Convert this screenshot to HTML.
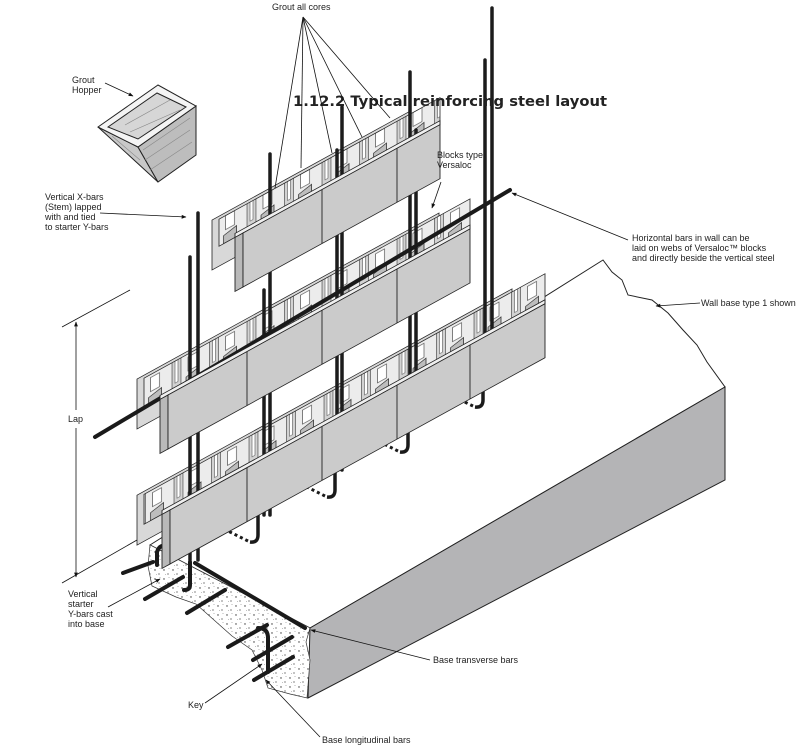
<!DOCTYPE html>
<html><head><meta charset="utf-8"><style>
html,body{margin:0;padding:0;background:#fff;}
svg{display:block;}
text{font-family:"Liberation Sans",sans-serif;font-size:9px;fill:#222;}
</style></head><body>
<svg width="805" height="746" viewBox="0 0 805 746" xmlns="http://www.w3.org/2000/svg">
<defs>
<pattern id="webs" x="0" y="-33" width="37.5" height="33" patternUnits="userSpaceOnUse">
<rect width="37.5" height="33" fill="#ececec"/>
<rect x="4" y="0" width="9" height="33" fill="#d2d2d2" stroke="#333" stroke-width="0.6"/>
<rect x="7" y="3" width="3" height="22" fill="#fff" stroke="#444" stroke-width="0.5"/>
<rect x="20" y="6" width="9" height="14" fill="#fff" stroke="#333" stroke-width="0.6"/>
<path d="M18 33 L18 25 L31 22 L31 33 Z" fill="#bdbdbd" stroke="#222" stroke-width="0.7"/>
</pattern>
<pattern id="speck" width="9" height="9" patternUnits="userSpaceOnUse">
<rect width="9" height="9" fill="#fff"/>
<circle cx="2" cy="3" r="0.7" fill="#333"/><circle cx="6" cy="7" r="0.6" fill="#333"/><circle cx="7" cy="1.5" r="0.4" fill="#555"/><circle cx="3.5" cy="7.5" r="0.35" fill="#555"/>
</pattern>
<marker id="ah" viewBox="0 0 10 10" refX="9" refY="5" markerWidth="8" markerHeight="6" orient="auto-start-reverse"><path d="M0 1 L10 5 L0 9 Z" fill="#111"/></marker>
</defs>

<!-- base slab -->
<polygon points="150,545 603,260 612,272 622,280 628,295 652,300 668,313 683,330 697,345 707,362 725,387 310,628" fill="#fff" stroke="#222" stroke-width="1"/>
<polygon points="310,628 725,387 725,480 308,698" fill="#b4b4b6" stroke="#222" stroke-width="1"/>
<polygon points="150,545 310,628 306,642 310,660 307,698 290,694 268,688 262,670 252,650 232,636 214,620 196,604 176,597 152,586 148,566" fill="url(#speck)" stroke="#333" stroke-width="0.7"/>

<!-- base rebar -->
<g stroke="#1a1a1a" stroke-width="4" stroke-linecap="round" fill="none">
<line x1="195" y1="563" x2="305" y2="628"/>
<line x1="123" y1="573" x2="153" y2="562"/>
<line x1="145" y1="599" x2="183" y2="577"/>
<line x1="187" y1="613" x2="225" y2="590"/>
<line x1="228" y1="647" x2="267" y2="625"/>
<line x1="253" y1="660" x2="292" y2="637"/>
<line x1="254" y1="680" x2="293" y2="657"/>
<path d="M258 628 Q268 628 268 638 L268 672"/>
<path d="M157 565 L157 552 Q160 543 168 547"/>
<path d="M190 562 L190 585 Q190 590 184 590"/>
</g>
<!-- hooks with dotted -->
<g fill="none" stroke="#1a1a1a">
<path d="M258 513 L258 535 Q258 543 250 542" stroke-width="3.5"/>
<path d="M335 470 L335 490 Q335 498 327 497" stroke-width="3.5"/>
<path d="M408 420 L408 445 Q408 453 400 452" stroke-width="3.5"/>
<path d="M483 375 L483 400 Q483 408 475 407" stroke-width="3.5"/>
<g stroke-width="3" stroke-dasharray="3,3">
<line x1="248" y1="541" x2="228" y2="531"/><line x1="325" y1="496" x2="305" y2="486"/><line x1="398" y1="451" x2="378" y2="441"/><line x1="473" y1="406" x2="452" y2="396"/>
</g>
</g>

<!-- back shells + interiors -->
<g stroke="#222" stroke-width="0.8">
<g transform="matrix(1,-0.55,0,1,243,233)">
<rect x="-31" y="-30" width="197" height="50" fill="#d8d8d8"/>
<rect x="-24" y="-27" width="221" height="27" fill="url(#webs)"/>
</g>
<g transform="matrix(1,-0.55,0,1,168,395)">
<rect x="-31" y="-33" width="302" height="50" fill="#d8d8d8"/>
<rect x="-24" y="-30" width="326" height="30" fill="url(#webs)"/>
</g>
<g transform="matrix(1,-0.55,0,1,170,510)">
<rect x="-33" y="-33" width="375" height="50" fill="#d8d8d8"/>
<rect x="-26" y="-30" width="401" height="30" fill="url(#webs)"/>
</g>
</g>

<!-- vertical bars -->
<g stroke="#1c1c1c" stroke-width="3.5" stroke-linecap="round">
<line x1="190" y1="257" x2="190" y2="560"/>
<line x1="198" y1="213" x2="198" y2="560"/>
<line x1="264" y1="290" x2="264" y2="515"/>
<line x1="270" y1="154" x2="270" y2="515"/>
<line x1="337" y1="150" x2="337" y2="470"/>
<line x1="342" y1="107" x2="342" y2="470"/>
<line x1="410" y1="72" x2="410" y2="425"/>
<line x1="416" y1="130" x2="416" y2="425"/>
<line x1="485" y1="60" x2="485" y2="380"/>
<line x1="492" y1="8" x2="492" y2="380"/>
</g>
<!-- horizontal bar -->
<line x1="95" y1="437" x2="510" y2="190" stroke="#1a1a1a" stroke-width="4" stroke-linecap="round"/>

<!-- front faces -->
<g stroke="#222" stroke-width="0.9">
<g transform="matrix(1,-0.55,0,1,243,233)">
<rect x="-8" y="-4" width="205" height="4" fill="#efefef"/>
<rect x="-8" y="0" width="8" height="54" fill="#b9b9b9"/>
<rect x="0" y="0" width="197" height="54" fill="#cbcbcb"/>
<line x1="79" y1="0" x2="79" y2="54"/><line x1="154" y1="0" x2="154" y2="54"/>
</g>
<g transform="matrix(1,-0.55,0,1,168,395)">
<rect x="-8" y="-4" width="310" height="4" fill="#efefef"/>
<rect x="-8" y="0" width="8" height="54" fill="#b9b9b9"/>
<rect x="0" y="0" width="302" height="54" fill="#cbcbcb"/>
<line x1="79" y1="0" x2="79" y2="54"/><line x1="154" y1="0" x2="154" y2="54"/><line x1="229" y1="0" x2="229" y2="54"/>
</g>
<g transform="matrix(1,-0.55,0,1,170,510)">
<rect x="-8" y="-4" width="383" height="4" fill="#efefef"/>
<rect x="-8" y="0" width="8" height="54" fill="#b9b9b9"/>
<rect x="0" y="0" width="375" height="54" fill="#cbcbcb"/>
<line x1="77" y1="0" x2="77" y2="54"/><line x1="152" y1="0" x2="152" y2="54"/><line x1="227" y1="0" x2="227" y2="54"/><line x1="300" y1="0" x2="300" y2="54"/>
</g>
</g>

<!-- hopper -->
<g stroke="#222" stroke-width="1">
<polygon points="98,127 138,147 158,182" fill="#c8c8c8"/>
<polygon points="138,147 196,106 196,155 158,182" fill="#bdbdbd"/>
<polygon points="98,127 158,85 196,106 138,147" fill="#f4f4f4"/>
<polygon points="108,127 157,93 186,107 138,139" fill="#d6d6d6"/>
<g stroke="#888" stroke-width="0.6"><line x1="145" y1="160" x2="190" y2="130"/><line x1="150" y1="170" x2="192" y2="142"/><line x1="143" y1="150" x2="190" y2="118"/><line x1="112" y1="136" x2="140" y2="160"/><line x1="125" y1="125" x2="170" y2="100"/><line x1="130" y1="132" x2="180" y2="110"/></g>
</g>

<!-- title -->
<text x="293" y="106" style="font-family:'DejaVu Sans',sans-serif;font-size:14px;font-weight:bold;fill:#222" textLength="314" lengthAdjust="spacingAndGlyphs">1.12.2 Typical reinforcing steel layout</text>

<!-- leaders -->
<g stroke="#111" stroke-width="0.8" fill="none">
<line x1="303" y1="17" x2="275" y2="188"/><line x1="303" y1="17" x2="301" y2="168"/><line x1="303" y1="17" x2="332" y2="153"/><line x1="303" y1="17" x2="362" y2="137"/><line x1="303" y1="17" x2="390" y2="118"/>
<line x1="105" y1="83" x2="133" y2="96" marker-end="url(#ah)"/>
<line x1="100" y1="213" x2="186" y2="217" marker-end="url(#ah)"/>
<line x1="441" y1="182" x2="432" y2="208" marker-end="url(#ah)"/>
<line x1="628" y1="240" x2="512" y2="193" marker-end="url(#ah)"/>
<line x1="700" y1="303" x2="656" y2="306" marker-end="url(#ah)"/>
<line x1="76" y1="410" x2="76" y2="322" marker-end="url(#ah)"/>
<line x1="76" y1="428" x2="76" y2="577" marker-end="url(#ah)"/>
<line x1="62" y1="327" x2="130" y2="290"/>
<line x1="62" y1="583" x2="137" y2="540"/>
<line x1="108" y1="607" x2="160" y2="579" marker-end="url(#ah)"/>
<line x1="205" y1="703" x2="262" y2="664" marker-end="url(#ah)"/>
<line x1="430" y1="660" x2="311" y2="630" marker-end="url(#ah)"/>
<line x1="320" y1="737" x2="266" y2="680" marker-end="url(#ah)"/>
</g>

<!-- labels -->
<text x="272" y="10">Grout all cores</text>
<text x="72" y="83">Grout</text><text x="72" y="93">Hopper</text>
<text x="45" y="200">Vertical X-bars</text><text x="45" y="210">(Stem) lapped</text><text x="45" y="220">with and tied</text><text x="45" y="230">to starter Y-bars</text>
<text x="437" y="158">Blocks type</text><text x="437" y="168">Versaloc</text>
<text x="632" y="241">Horizontal bars in wall can be</text><text x="632" y="251">laid on webs of Versaloc™ blocks</text><text x="632" y="261">and directly beside the vertical steel</text>
<text x="701" y="306">Wall base type 1 shown</text>
<text x="68" y="422">Lap</text>
<text x="68" y="597">Vertical</text><text x="68" y="607">starter</text><text x="68" y="617">Y-bars cast</text><text x="68" y="627">into base</text>
<text x="188" y="708">Key</text>
<text x="433" y="663">Base transverse bars</text>
<text x="322" y="743">Base longitudinal bars</text>
</svg>
</body></html>
